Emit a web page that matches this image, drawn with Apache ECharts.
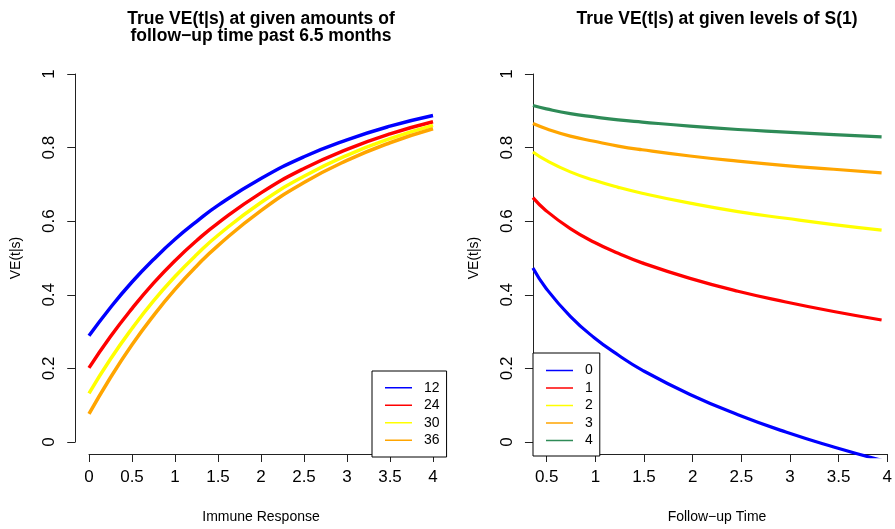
<!DOCTYPE html>
<html>
<head>
<meta charset="utf-8">
<script src="https://cdn.jsdelivr.net/npm/echarts@6/dist/echarts.min.js"></script>
<style>
  html, body { margin: 0; padding: 0; background: #fff; }
  #chart { width: 895px; height: 529px; }
</style>
</head>
<body>
<div id="chart"></div>
<script>
// Left panel: VE(t|s) against immune response for several follow-up times
const responseLevels = [0, 0.25, 0.5, 0.75, 1, 1.25, 1.5, 2, 2.5, 3, 3.5, 4];
const ve12 = [0.288, 0.365, 0.434, 0.495, 0.550, 0.598, 0.642, 0.715, 0.774, 0.820, 0.857, 0.886];
const ve24 = [0.201, 0.286, 0.362, 0.431, 0.492, 0.546, 0.594, 0.676, 0.742, 0.794, 0.836, 0.869];
const ve30 = [0.132, 0.225, 0.308, 0.383, 0.449, 0.508, 0.561, 0.650, 0.721, 0.778, 0.823, 0.859];
const ve36 = [0.076, 0.175, 0.264, 0.343, 0.414, 0.477, 0.533, 0.628, 0.704, 0.764, 0.812, 0.850];
const followUpNames = ['12', '24', '30', '36'];

// Right panel: VE(t|s) against follow-up time for several levels of S(1)
const followUpTimes = [0.36, 0.5, 0.75, 1, 1.25, 1.5, 2, 2.5, 3, 3.5, 4];
const veS0 = [0.472, 0.416, 0.341, 0.283, 0.236, 0.195, 0.129, 0.074, 0.027, -0.0135, -0.050];
const veS1 = [0.663, 0.627, 0.579, 0.542, 0.512, 0.486, 0.444, 0.409, 0.380, 0.354, 0.331];
const veS2 = [0.787, 0.764, 0.733, 0.710, 0.691, 0.675, 0.648, 0.625, 0.607, 0.590, 0.575];
const veS3 = [0.864, 0.850, 0.830, 0.816, 0.803, 0.793, 0.776, 0.762, 0.750, 0.740, 0.730];
const veS4 = [0.913, 0.904, 0.891, 0.882, 0.874, 0.868, 0.857, 0.848, 0.841, 0.834, 0.828];
const levelNames = ['0', '1', '2', '3', '4'];

const leftColors = ['#0000ff', '#ff0000', '#ffff00', '#ffa500'];
const rightColors = ['#0000ff', '#ff0000', '#ffff00', '#ffa500', '#2e8b57'];

const FONT = '"Liberation Sans", Arial, Helvetica, sans-serif';

function pairs(xs, ys) { return xs.map((x, i) => [x, ys[i]]); }

function hiddenAxis(gridIndex, min, max) {
  return { type: 'value', gridIndex, min, max, show: false, splitLine: { show: false } };
}

function tickXAxis(gridIndex, min, max, name) {
  return {
    type: 'value', gridIndex, min, max, interval: 0.5, position: 'bottom',
    axisLine: { show: true, lineStyle: { color: '#222', width: 1 } },
    axisTick: { show: true, length: 8, lineStyle: { color: '#222' } },
    axisLabel: { show: true, margin: 15, color: '#000', fontSize: 17, fontFamily: FONT },
    splitLine: { show: false },
    name, nameLocation: 'middle', nameGap: 56,
    nameTextStyle: { color: '#000', fontSize: 14, fontFamily: FONT }
  };
}

function tickYAxis(gridIndex, name) {
  return {
    type: 'value', gridIndex, min: 0, max: 1, interval: 0.2, position: 'left',
    axisLine: { show: true, lineStyle: { color: '#222', width: 1 } },
    axisTick: { show: true, length: 8, lineStyle: { color: '#222' } },
    axisLabel: { show: true, rotate: 90, margin: 17, color: '#000', fontSize: 17, fontFamily: FONT },
    splitLine: { show: false },
    name, nameLocation: 'middle', nameGap: 52,
    nameTextStyle: { color: '#000', fontSize: 14, fontFamily: FONT }
  };
}

function legendBox(names, left, top, padding) {
  return {
    data: names, orient: 'vertical', left, top,
    backgroundColor: '#fff', borderColor: '#000', borderWidth: 1, borderRadius: 0,
    padding, icon: 'rect', itemWidth: 27, itemHeight: 1.5, itemGap: 3.5,
    textStyle: { color: '#000', fontSize: 14, fontFamily: FONT, lineHeight: 14, padding: [0, 0, 0, 7] },
    selectedMode: false
  };
}

const series = [];
[ve12, ve24, ve30, ve36].forEach((ys, i) => {
  series.push({
    name: followUpNames[i], type: 'line', xAxisIndex: 0, yAxisIndex: 0,
    data: pairs(responseLevels, ys), showSymbol: false, symbol: 'none',
    smooth: true, clip: true,
    color: leftColors[i], lineStyle: { color: leftColors[i], width: 3.5 }
  });
});
[veS0, veS1, veS2, veS3, veS4].forEach((ys, i) => {
  series.push({
    name: levelNames[i], type: 'line', xAxisIndex: 3, yAxisIndex: 3,
    data: pairs(followUpTimes, ys), showSymbol: false, symbol: 'none',
    smooth: true, clip: true,
    color: rightColors[i], lineStyle: { color: rightColors[i], width: 3.2 }
  });
});

const option = {
  backgroundColor: '#fff',
  animation: false,
  title: [
    {
      text: 'True VE(t|s) at given amounts of\nfollow\u2212up time past 6.5 months',
      left: 261, top: 11, padding: 0, textAlign: 'center',
      textStyle: { color: '#000', fontSize: 17.5, fontWeight: 'bold', fontFamily: FONT, lineHeight: 16.5 }
    },
    {
      text: 'True VE(t|s) at given levels of S(1)',
      left: 717, top: 11, padding: 0, textAlign: 'center',
      textStyle: { color: '#000', fontSize: 17.5, fontWeight: 'bold', fontFamily: FONT, lineHeight: 16.5 }
    }
  ],
  grid: [
    // left panel: plotting region, x-axis span, y-axis span
    { left: 75.24, top: 58.72, width: 371.52, height: 398, show: false },
    { left: 89, top: 58.72, width: 344, height: 398, show: false },
    { left: 75.24, top: 74, width: 371.52, height: 368, show: false },
    // right panel
    { left: 532.94, top: 58.72, width: 371.52, height: 398, show: false },
    { left: 546.7, top: 58.72, width: 344, height: 398, show: false },
    { left: 532.94, top: 74, width: 371.52, height: 368, show: false }
  ],
  xAxis: [
    hiddenAxis(0, -0.16, 4.16),
    tickXAxis(1, 0, 4, 'Immune Response'),
    hiddenAxis(2, 0, 4),
    hiddenAxis(3, 0.36, 4.14),
    tickXAxis(4, 0.5, 4, 'Follow\u2212up Time'),
    hiddenAxis(5, 0, 4)
  ],
  yAxis: [
    hiddenAxis(0, -0.04, 1.04),
    hiddenAxis(1, 0, 1),
    tickYAxis(2, 'VE(t|s)'),
    hiddenAxis(3, -0.04, 1.04),
    hiddenAxis(4, 0, 1),
    tickYAxis(5, 'VE(t|s)')
  ],
  legend: [
    legendBox(followUpNames, 372, 371, [9.75, 7, 9.75, 13]),
    legendBox(levelNames, 533, 353, [10.5, 7, 8.5, 13])
  ],
  series
};

const chart = echarts.init(document.getElementById('chart'), null, { renderer: 'canvas' });
chart.setOption(option);
</script>
</body>
</html>
